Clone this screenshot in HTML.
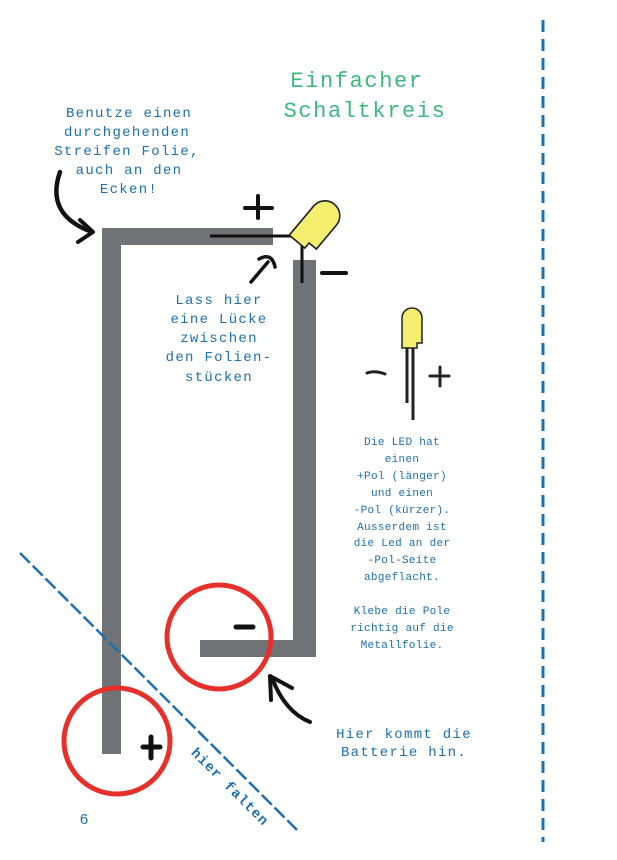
<!DOCTYPE html>
<html><head><meta charset="utf-8"><style>
html,body{margin:0;padding:0;background:#fff;}
svg{display:block;}
.t{font-family:"Liberation Mono",monospace;fill:#1d6fb0;text-anchor:middle;}
</style></head><body>
<svg width="617" height="860" viewBox="0 0 617 860" xmlns="http://www.w3.org/2000/svg">
<rect width="617" height="860" fill="#fff"/>
<line x1="543" y1="20" x2="543" y2="842" stroke="#1d6fb0" stroke-width="3" stroke-dasharray="12,7"/>
<text x="357" y="87" font-family="Liberation Mono, monospace" font-size="22" letter-spacing="1.6" fill="#3cb97f" text-anchor="middle">Einfacher</text>
<text x="365" y="117" font-family="Liberation Mono, monospace" font-size="22" letter-spacing="1.6" fill="#3cb97f" text-anchor="middle">Schaltkreis</text>
<g class="t" font-size="14" letter-spacing="1.3">
<text x="129" y="117">Benutze einen</text>
<text x="127" y="136">durchgehenden</text>
<text x="127" y="155">Streifen Folie,</text>
<text x="129" y="174">auch an den</text>
<text x="129" y="193">Ecken!</text>
<text x="219" y="304">Lass hier</text>
<text x="219" y="323">eine Lücke</text>
<text x="219" y="342">zwischen</text>
<text x="219" y="361">den Folien-</text>
<text x="219" y="381">stücken</text>
<text x="404" y="738">Hier kommt die</text>
<text x="404" y="756">Batterie hin.</text>
</g>
<g class="t" font-size="11" letter-spacing="0.3">
<text x="402" y="445">Die LED hat</text>
<text x="402" y="462">einen</text>
<text x="402" y="479">+Pol (länger)</text>
<text x="402" y="496">und einen</text>
<text x="402" y="513">-Pol (kürzer).</text>
<text x="402" y="530">Ausserdem ist</text>
<text x="402" y="546">die Led an der</text>
<text x="402" y="563">-Pol-Seite</text>
<text x="402" y="580">abgeflacht.</text>
<text x="402" y="614">Klebe die Pole</text>
<text x="402" y="631">richtig auf die</text>
<text x="402" y="648">Metallfolie.</text>
</g>
<g fill="#6f7375">
<rect x="102" y="228" width="19" height="526"/>
<rect x="102" y="228" width="171" height="17"/>
<rect x="293" y="260" width="23" height="397"/>
<rect x="200" y="640" width="116" height="17"/>
</g>
<path d="M210 236 H302 V283" fill="none" stroke="#111" stroke-width="3"/>
<g transform="translate(318,224) rotate(40) scale(1.35)">
<path d="M-11 18 V-8 A11 11 0 0 1 11 -8 V15 H4 V20 H-11 Z" fill="#f3ee6e" stroke="#222" stroke-width="1.2"/>
</g>
<path d="M245 208 H272 M258 196 V218" stroke="#111" stroke-width="4" stroke-linecap="round"/>
<path d="M322 273 H346" stroke="#111" stroke-width="4" stroke-linecap="round"/>
<path d="M251 282 L268 262 M259 259 Q272 252 275 267" fill="none" stroke="#111" stroke-width="3.5" stroke-linecap="round"/>
<path d="M60 172 Q45 215 92 232" fill="none" stroke="#111" stroke-width="4.5" stroke-linecap="round"/>
<path d="M80 220 L93 232 L78 242" fill="none" stroke="#111" stroke-width="4" stroke-linecap="round" stroke-linejoin="round"/>
<path d="M402 348 V318 A10 10 0 0 1 422 318 V343 H417 V348 Z" fill="#f3ee6e" stroke="#222" stroke-width="1.5"/>
<line x1="407" y1="348" x2="407" y2="403" stroke="#222" stroke-width="3"/>
<line x1="413" y1="348" x2="413" y2="420" stroke="#222" stroke-width="3"/>
<path d="M367 373 Q375 370 385 374" fill="none" stroke="#222" stroke-width="3" stroke-linecap="round"/>
<path d="M430 376 H449 M440 367 V386" stroke="#222" stroke-width="3" stroke-linecap="round"/>
<circle cx="219" cy="637" r="52" fill="none" stroke="#e8302a" stroke-width="5"/>
<circle cx="117" cy="741" r="53" fill="none" stroke="#e8302a" stroke-width="5"/>
<path d="M236 627 H253" stroke="#111" stroke-width="5" stroke-linecap="round"/>
<path d="M143 747 H160 M151 737 V758" stroke="#111" stroke-width="5" stroke-linecap="round"/>
<path d="M310 722 Q285 712 272 678" fill="none" stroke="#111" stroke-width="4" stroke-linecap="round"/>
<path d="M271 700 L270 676 L292 688" fill="none" stroke="#111" stroke-width="4" stroke-linecap="round" stroke-linejoin="round"/>
<line x1="20" y1="553" x2="297" y2="830" stroke="#1d6fb0" stroke-width="2.5" stroke-dasharray="14,4"/>
<text x="227" y="790" transform="rotate(45 227 790)" font-family="Liberation Mono, monospace" font-size="14" font-weight="bold" fill="#1d6fb0" text-anchor="middle" letter-spacing="1">hier falten</text>
<text x="84" y="824" font-family="Liberation Sans, sans-serif" font-size="15" fill="#1d6fb0" text-anchor="middle">6</text>
</svg>
</body></html>
